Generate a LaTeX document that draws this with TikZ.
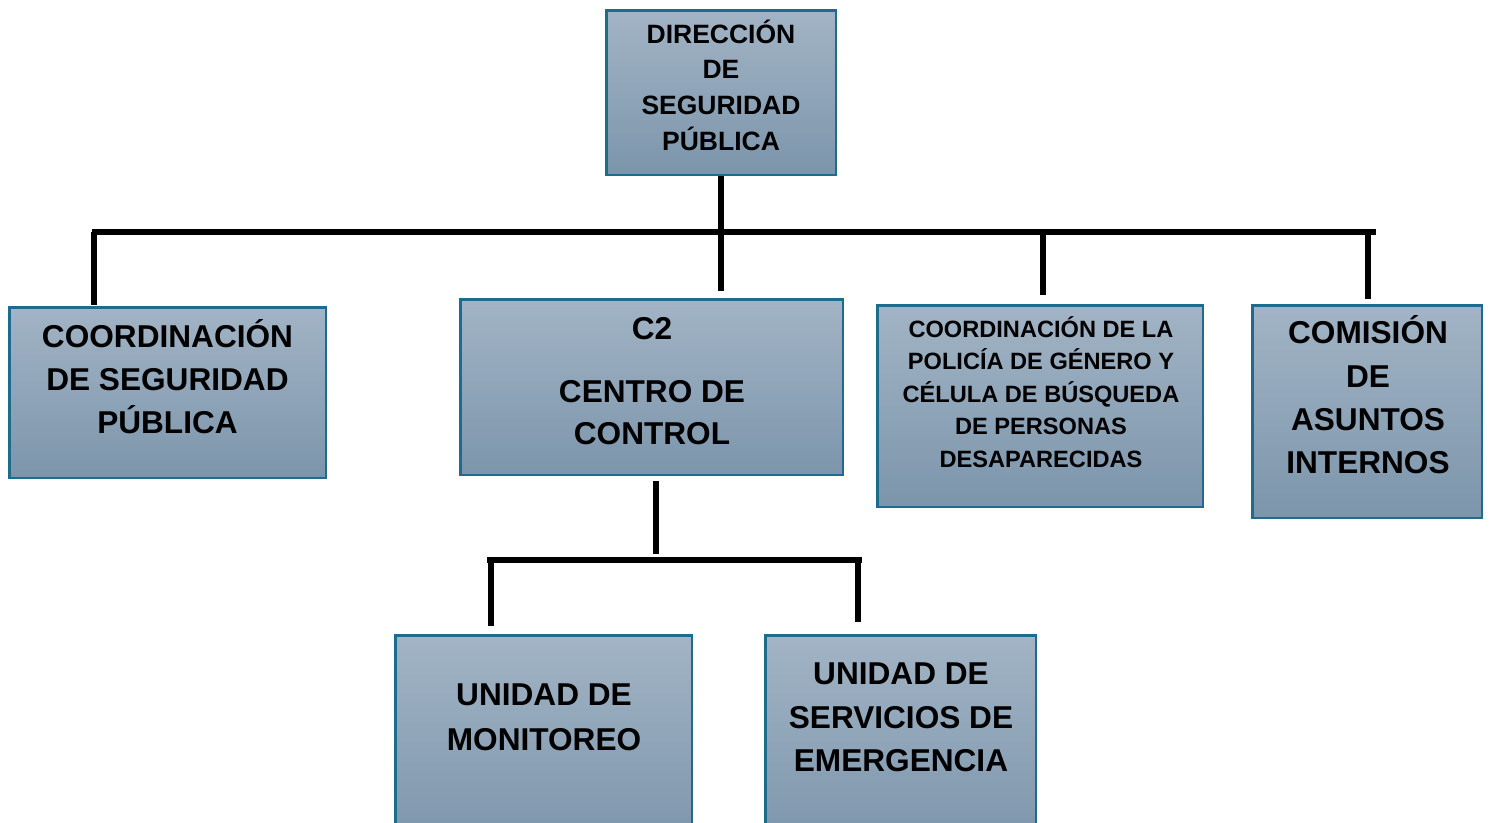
\documentclass[tikz,border=0pt]{standalone}
\usepackage{fontspec}
\setmainfont{Liberation Sans}
\definecolor{boxtop}{RGB}{162,180,197}
\definecolor{boxbot}{RGB}{124,149,171}
\definecolor{boxline}{RGB}{31,107,142}
\tikzset{
  orgbox/.style={rectangle, draw=boxline, line width=2.5pt, top color=boxtop, bottom color=boxbot, inner sep=0pt},
  orgtxt/.style={align=center, inner sep=0pt, text=black},
  conn/.style={draw=black, line width=5.5pt}
}
\begin{document}
\begin{tikzpicture}[x=1pt,y=-1pt]
\clip (0,0) rectangle (1490,822);
\fill[white] (0,0) rectangle (1490,822);
% boxes
\node[orgbox, minimum width=229.5pt, minimum height=164.5pt] (dir) at (721,92.5) {};
\node[orgbox, minimum width=316.5pt, minimum height=170.5pt] (cs) at (167.5,392.5) {};
\node[orgbox, minimum width=382.5pt, minimum height=175.5pt] (c2) at (651.5,387) {};
\node[orgbox, minimum width=325.5pt, minimum height=201.5pt] (pol) at (1040,406) {};
\node[orgbox, minimum width=229.5pt, minimum height=212.5pt] (com) at (1367,411.5) {};
\node[orgbox, minimum width=296.5pt, minimum height=213.5pt] (mon) at (543.5,742) {};
\node[orgbox, minimum width=270.5pt, minimum height=213.5pt] (ser) at (900.5,742) {};
% texts
\node[orgtxt, font=\fontsize{26.5}{35.7}\selectfont\bfseries] (dirt) at (721,87.5) {DIRECCI\smash{Ó}N\\DE\\SEGURIDAD\\PÚBLICA};
\node[orgtxt, font=\fontsize{31.6}{43}\selectfont\bfseries] (cst) at (167.5,380) {COORDINACI\smash{Ó}N\\DE SEGURIDAD\\PÚBLICA};
\node[orgtxt, font=\fontsize{31.6}{42}\selectfont\bfseries] (c2t) at (652,381) {C2\\[21pt]CENTRO DE\\CONTROL};
\node[orgtxt, font=\fontsize{23.6}{32.5}\selectfont\bfseries] (polt) at (1041,394) {COORDINACI\smash{Ó}N DE LA\\POLICÍA DE GÉNERO Y\\CÉLULA DE BÚSQUEDA\\DE PERSONAS\\DESAPARECIDAS};
\node[orgtxt, font=\fontsize{31.6}{43.3}\selectfont\bfseries] (comt) at (1368,398) {COMISI\smash{Ó}N\\DE\\ASUNTOS\\INTERNOS};
\node[orgtxt, font=\fontsize{31.6}{45}\selectfont\bfseries] (mont) at (544,717.5) {UNIDAD DE\\MONITOREO};
\node[orgtxt, font=\fontsize{31.6}{43.5}\selectfont\bfseries] (sert) at (901,717.5) {UNIDAD DE\\SERVICIOS DE\\EMERGENCIA};
% upper bus
\coordinate (busL) at (92,232);
\coordinate (busR) at (1376,232);
\coordinate (jcs) at (94,232);
\coordinate (jdir) at (721,232);
\coordinate (jpol) at (1043,232);
\coordinate (jcom) at (1368,232);
\draw[conn] (busL) -- (busR);
\draw[conn] (dir.south -| jdir) -- (jdir |- c2.north) [shorten >=7pt];
\draw[conn, shorten >=1pt] (jcs) -- (jcs |- cs.north);
\draw[conn, shorten >=9pt] (jpol) -- (jpol |- pol.north);
\draw[conn, shorten >=5pt] (jcom) -- (jcom |- com.north);
% lower bus
\coordinate (bus2L) at (487,560);
\coordinate (bus2R) at (862,560);
\coordinate (jc2) at (656,560);
\coordinate (jmon) at (491,560);
\coordinate (jser) at (858,560);
\draw[conn] (bus2L) -- (bus2R);
\draw[conn, shorten <=5pt, shorten >=6pt] (jc2 |- c2.south) -- (jc2);
\draw[conn, shorten >=8pt] (jmon) -- (jmon |- mon.north);
\draw[conn, shorten >=12pt] (jser) -- (jser |- ser.north);
\end{tikzpicture}
\end{document}
